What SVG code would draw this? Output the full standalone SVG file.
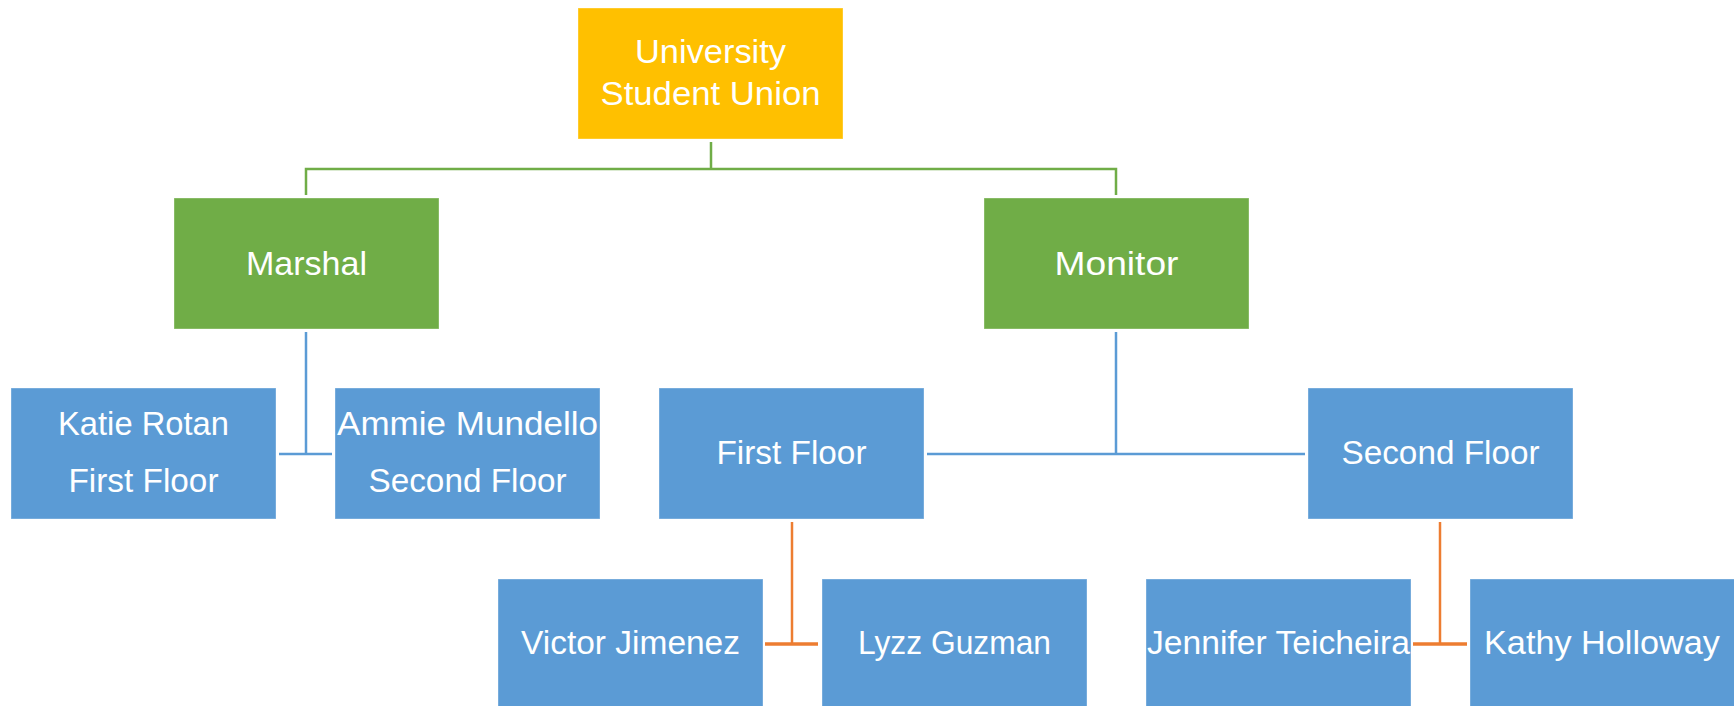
<svg xmlns="http://www.w3.org/2000/svg" width="1734" height="706" viewBox="0 0 1734 706">
<style>
.box{stroke:#ffffff;stroke-opacity:0.35;stroke-width:1}
.y{fill:#FFC000}.g{fill:#70AD47}.b{fill:#5B9BD5}
text{font-family:"Liberation Sans",Arial,sans-serif;font-size:33px;fill:#ffffff;text-anchor:middle}
.cg{stroke:#70AD47;stroke-width:2.5;fill:none}
.cb{stroke:#5B9BD5;stroke-width:2.5;fill:none}
.co{stroke:#ED7D31;stroke-width:2.5;fill:none}
.coh{stroke:#ED7D31;stroke-width:3.5;fill:none}
</style>
<rect width="1734" height="706" fill="#ffffff"/>
<g id="connectors">
<path class="cg" d="M711,142 V169 M306,195 V169 H1116 V195"/>
<path class="cb" d="M306,332 V454 M279,454 H332"/>
<path class="cb" d="M1116,332 V454 M927,454 H1305"/>
<path class="co" d="M792,522 V644"/>
<path class="coh" d="M765,644 H818"/>
<path class="co" d="M1440,522 V644"/>
<path class="coh" d="M1413,644 H1467"/>
</g>
<g id="university"><rect class="box y" x="578" y="8" width="265" height="131"/><text x="710.5" y="63" textLength="151" lengthAdjust="spacingAndGlyphs">University</text><text x="710.5" y="105" textLength="220" lengthAdjust="spacingAndGlyphs">Student Union</text></g>
<g id="marshal"><rect class="box g" x="174" y="198" width="265" height="131"/><text x="306.5" y="275" textLength="121" lengthAdjust="spacingAndGlyphs">Marshal</text></g>
<g id="monitor"><rect class="box g" x="984" y="198" width="265" height="131"/><text x="1116.5" y="275" textLength="124" lengthAdjust="spacingAndGlyphs">Monitor</text></g>
<g id="katie"><rect class="box b" x="11" y="388" width="265" height="131"/><text x="143.5" y="435" textLength="171" lengthAdjust="spacingAndGlyphs">Katie Rotan</text><text x="143.5" y="492" textLength="150" lengthAdjust="spacingAndGlyphs">First Floor</text></g>
<g id="ammie"><rect class="box b" x="335" y="388" width="265" height="131"/><text x="467.5" y="435" textLength="261" lengthAdjust="spacingAndGlyphs">Ammie Mundello</text><text x="467.5" y="492" textLength="198" lengthAdjust="spacingAndGlyphs">Second Floor</text></g>
<g id="first-floor"><rect class="box b" x="659" y="388" width="265" height="131"/><text x="791.5" y="464" textLength="150" lengthAdjust="spacingAndGlyphs">First Floor</text></g>
<g id="second-floor"><rect class="box b" x="1308" y="388" width="265" height="131"/><text x="1440.5" y="464" textLength="198" lengthAdjust="spacingAndGlyphs">Second Floor</text></g>
<g id="victor"><rect class="box b" x="498" y="579" width="265" height="131"/><text x="630.5" y="654" textLength="219" lengthAdjust="spacingAndGlyphs">Victor Jimenez</text></g>
<g id="lyzz"><rect class="box b" x="822" y="579" width="265" height="131"/><text x="954.5" y="654" textLength="193" lengthAdjust="spacingAndGlyphs">Lyzz Guzman</text></g>
<g id="jennifer"><rect class="box b" x="1146" y="579" width="265" height="131"/><text x="1278.5" y="654" textLength="263" lengthAdjust="spacingAndGlyphs">Jennifer Teicheira</text></g>
<g id="kathy"><rect class="box b" x="1470" y="579" width="265" height="131"/><text x="1602" y="654" textLength="236" lengthAdjust="spacingAndGlyphs">Kathy Holloway</text></g>
</svg>
